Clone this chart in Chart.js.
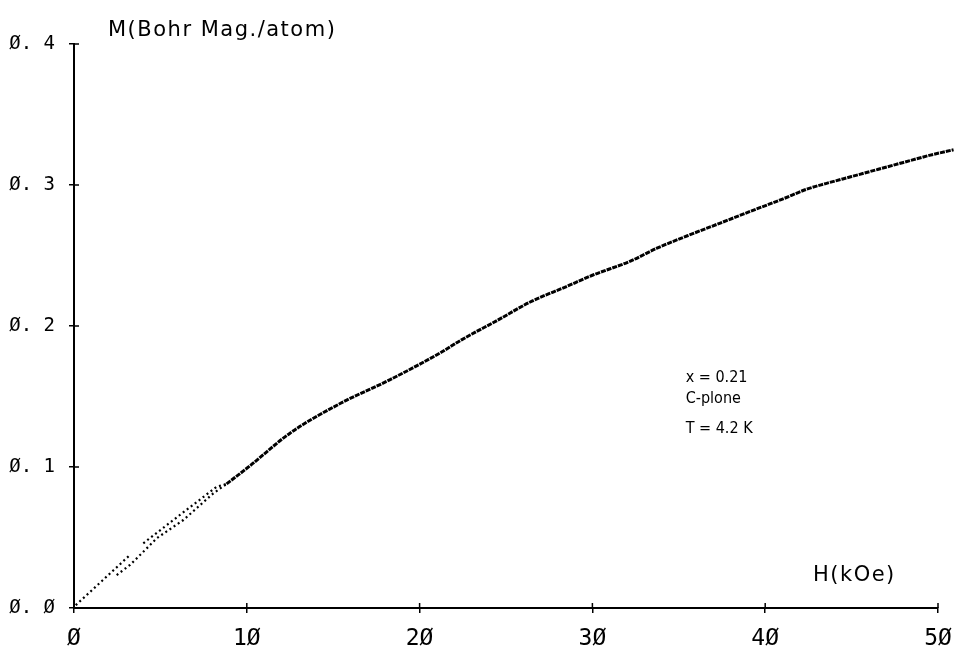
<!DOCTYPE html>
<html lang="en">
<head>
  <meta charset="UTF-8">
  <title>M vs H, x = 0.21, C-plane, 4.2 K</title>
  <script src="https://cdn.jsdelivr.net/npm/chart.js"></script>
  <style>
    body { margin: 0; background: #fff; }
    .wrap { width: 954px; height: 646px; position: relative; }
  </style>
</head>
<body>
  <div class="wrap"><canvas id="mh"></canvas></div>
  <script>
    // tick labels (plotter style slashed zeros)
    const xTickLabels = ['Ø', '1Ø', '2Ø', '3Ø', '4Ø', '5Ø'];
    const yTickLabels = ['Ø. Ø', 'Ø. 1', 'Ø. 2', 'Ø. 3', 'Ø. 4'];
    const xTicks = [0, 10, 20, 30, 40, 50];
    const yTicks = [0, 0.1, 0.2, 0.3, 0.4];

    // low-field traces (dotted)
    const firstH = [0.1, 1.6, 3.24];
    const firstM = [0.002, 0.019, 0.0376];
    const lowerH = [2.47, 3.24, 4.21, 4.78, 6.33, 8.06, 8.83];
    const lowerM = [0.0234, 0.0305, 0.0423, 0.0494, 0.0624, 0.0813, 0.088];
    const upperH = [4.01, 6.13, 8.26, 8.83];
    const upperM = [0.0459, 0.066, 0.086, 0.088];

    // main magnetisation curve
    const mainH = [8.83, 10.2, 12.5, 15.4, 18.3, 21.2, 22.4, 24.5, 26.4, 28.5, 30.0, 32.2, 33.7,
                   35.5, 37.4, 39.5, 41.0, 42.4, 43.5, 45.0, 46.5, 48.0, 49.5, 50.9];
    const mainM = [0.088, 0.101, 0.124, 0.145, 0.162, 0.181, 0.190, 0.204, 0.217, 0.228, 0.236,
                   0.246, 0.255, 0.264, 0.273, 0.283, 0.290, 0.297, 0.301, 0.306, 0.311, 0.316,
                   0.321, 0.325];

    // stray points near the end of the sweep
    const strayH = [50.8, 50.5];
    const strayM = [0.338, 0.319];

    const pts = (xs, ys) => xs.map((x, i) => ({ x, y: ys[i] }));

    const dotted = (xs, ys) => ({
      data: pts(xs, ys), showLine: true, pointRadius: 0, clip: false,
      borderColor: '#000', borderWidth: 2.2, borderDash: [2, 3], borderCapStyle: 'butt'
    });

    // free text: axis titles and sample label
    const labelsPlugin = {
      id: 'labels',
      afterDraw(chart) {
        const ctx = chart.ctx;
        const xs = chart.scales.x, ys = chart.scales.y;
        ctx.save();
        ctx.fillStyle = '#000';
        ctx.textAlign = 'left';
        ctx.textBaseline = 'alphabetic';
        ctx.font = '21px "DejaVu Sans"';
        ctx.letterSpacing = '1.5px';
        ctx.fillText('M(Bohr Mag./atom)', xs.left + 34, 36);
        ctx.fillText('H(kOe)', 813, 581);
        ctx.letterSpacing = '0px';
        ctx.font = '16px "Liberation Sans Narrow", "DejaVu Sans Condensed", sans-serif';
        const tx = xs.getPixelForValue(35.4);
        ctx.fillText('x = 0.21', tx, 382);
        ctx.fillText('C-plone', tx, 403);
        ctx.fillText('T = 4.2 K', tx, 433);

        // inner halves of the tick marks
        ctx.strokeStyle = '#000';
        ctx.lineWidth = 1.5;
        ctx.beginPath();
        xTicks.forEach(v => {
          const px = xs.getPixelForValue(v);
          ctx.moveTo(px, ys.bottom); ctx.lineTo(px, ys.bottom - 5);
        });
        yTicks.forEach(v => {
          const py = ys.getPixelForValue(v);
          ctx.moveTo(xs.left, py); ctx.lineTo(xs.left + 5, py);
        });
        ctx.stroke();
        ctx.restore();
      }
    };

    new Chart(document.getElementById('mh'), {
      type: 'scatter',
      data: {
        datasets: [
          dotted(firstH, firstM),
          dotted(lowerH, lowerM),
          dotted(upperH, upperM),
          {
            data: pts(mainH, mainM), showLine: true, pointRadius: 0, clip: false,
            cubicInterpolationMode: 'monotone',
            borderColor: '#000', borderWidth: 3, borderDash: [5, 1]
          },
          {
            data: pts(strayH, strayM), pointRadius: 1.5, clip: false,
            backgroundColor: '#000', borderWidth: 0
          }
        ]
      },
      options: {
        responsive: true,
        maintainAspectRatio: false,
        animation: false,
        layout: { padding: { top: 44, right: 16, left: 0, bottom: 0 } },
        plugins: { legend: { display: false }, tooltip: { enabled: false } },
        scales: {
          x: {
            type: 'linear', min: 0, max: 50,
            afterFit: s => { s.height = 38; s.paddingLeft = 0; s.paddingRight = 0; },
            afterBuildTicks: s => { s.ticks = xTicks.map(v => ({ value: v })); },
            border: { display: true, color: '#000', width: 2 },
            grid: { drawOnChartArea: false, color: '#000', lineWidth: 1.5, tickLength: 5 },
            ticks: {
              color: '#000', padding: 12, maxRotation: 0,
              font: { family: '"DejaVu Sans Mono"', size: 23 },
              callback: (v, i) => xTickLabels[i]
            }
          },
          y: {
            type: 'linear', min: 0, max: 0.4,
            afterFit: s => { s.width = 74; s.paddingTop = 0; s.paddingBottom = 0; },
            afterBuildTicks: s => { s.ticks = yTicks.map(v => ({ value: v })); },
            border: { display: true, color: '#000', width: 2 },
            grid: { drawOnChartArea: false, color: '#000', lineWidth: 1.5, tickLength: 5 },
            ticks: {
              color: '#000', padding: 14,
              font: { family: '"DejaVu Sans Mono"', size: 19 },
              callback: (v, i) => yTickLabels[i]
            }
          }
        }
      },
      plugins: [labelsPlugin]
    });
  </script>
</body>
</html>
